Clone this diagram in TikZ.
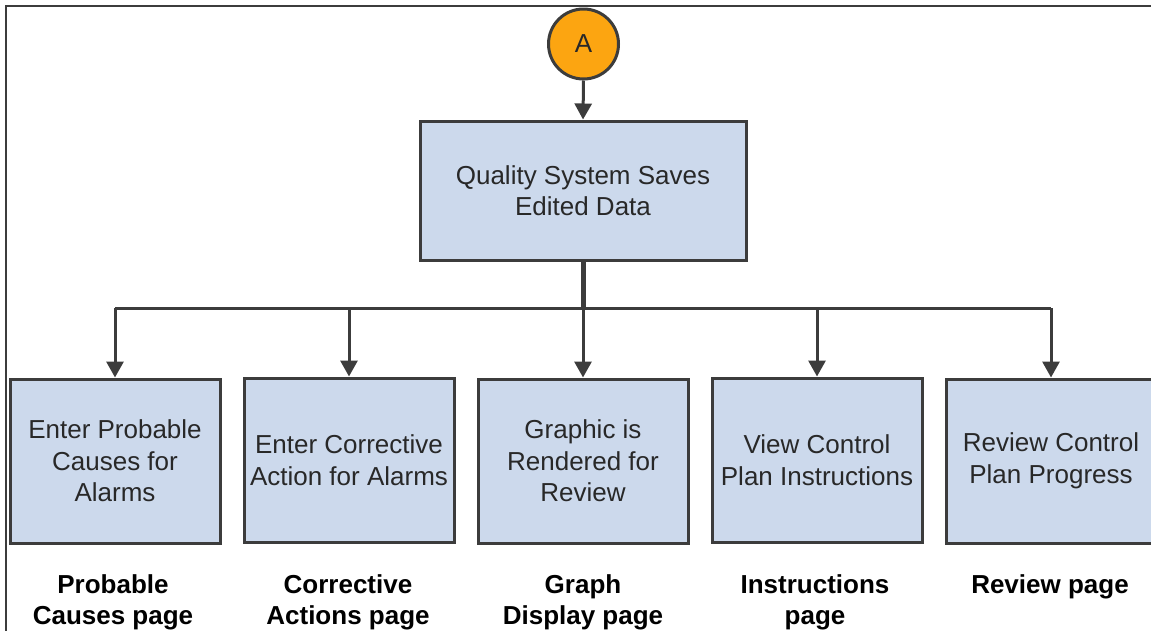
\documentclass[tikz,border=0pt]{standalone}
\usepackage{fontspec}
\setmainfont{Liberation Sans}
\usetikzlibrary{arrows.meta}
\definecolor{boxfill}{RGB}{204,217,236}
\definecolor{edge}{RGB}{60,60,60}
\definecolor{circfill}{RGB}{252,165,17}
\definecolor{txt}{RGB}{40,40,40}
\definecolor{framecol}{RGB}{60,60,60}
\begin{document}
\begin{tikzpicture}[x=1pt,y=-1pt,
  procbox/.style={draw=edge, line width=3pt, fill=boxfill, minimum width=210pt,
    minimum height=164pt, align=center, text=txt, inner sep=0pt,
    font=\fontsize{26}{31.5}\selectfont},
  pagelabel/.style={align=center, text=black, inner sep=0pt,
    font=\fontsize{26}{31}\selectfont\bfseries},
  conn/.style={draw=edge, line width=3pt},
  arr/.style={conn, -{Triangle[width=17pt,length=16pt]}}]
\useasboundingbox (0,0) rectangle (1151,630);
% frame
\coordinate (f1) at (6,640);
\coordinate (f2) at (6,6);
\coordinate (f3) at (1160,6);
\draw[framecol, line width=2.5pt] (f1) -- (f2) -- (f3);
% nodes
\node[circle, draw=edge, line width=3pt, fill=circfill, minimum size=70pt,
  inner sep=0pt, text=txt, font=\fontsize{26}{31}\selectfont] (A) at (583.5,44) {A};
\node[procbox, minimum width=326pt, minimum height=139pt] (top) at (583,190.5)
  {Quality System Saves\\[-1pt]Edited Data};
\node[procbox] (b1) at (115,461) {Enter Probable\\Causes for\\Alarms};
\node[procbox] (b2) at (349,460) {Enter Corrective\\Action for Alarms};
\node[procbox] (b3) at (583,461) {Graphic is\\Rendered for\\Review};
\node[procbox] (b4) at (817,460) {View Control\\Plan Instructions};
\node[procbox] (b5) at (1051,461) {Review Control\\Plan Progress};
\node[pagelabel] (l1) at (113,602) {Probable\\Causes page};
\node[pagelabel] (l2) at (348,602) {Corrective\\Actions page};
\node[pagelabel] (l3) at (583,602) {Graph\\Display page};
\node[pagelabel] (l4) at (815,602) {Instructions\\page};
\node[pagelabel] (l5) at (1050,587) {Review page};
% connectors
\coordinate (j) at (583,308);
\draw[arr] (A.south) -- (top.north);
\draw[conn, line width=5pt] (top.south) -- (j);
\draw[conn] (b1.north |- j) -- (b5.north |- j);
\foreach \b in {b1,b2,b3,b4,b5}
  \draw[arr] (\b.north |- j) -- (\b.north);
\end{tikzpicture}
\end{document}
